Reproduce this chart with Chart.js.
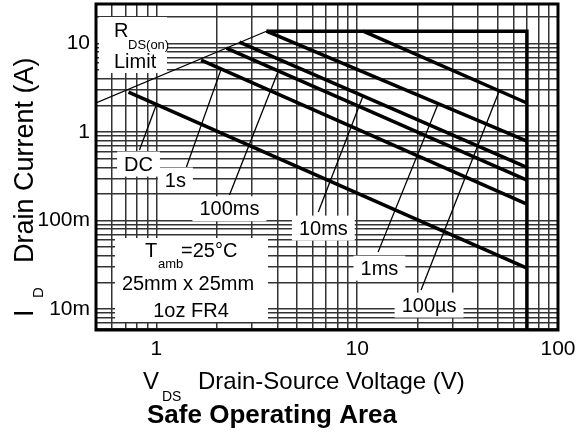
<!DOCTYPE html>
<html>
<head>
<meta charset="utf-8">
<script src="https://cdn.jsdelivr.net/npm/chart.js@4.4.0/dist/chart.umd.min.js"></script>
<style>
  body { margin: 0; background: #fff; }
</style>
</head>
<body>
<canvas id="soa" width="577" height="434"></canvas>
<script>
// Safe operating area, VDS (V) against ID (A), both log
const rdsV = [0.5, 3.53];
const rdsI = [2.13, 13.8];
const limitV = [3.53, 70, 70];
const limitI = [13.8, 13.8, 0.0058];
const dcV = [0.726, 70];
const dcI = [2.83, 0.029];
const s1V = [1.67, 70];
const s1I = [6.5, 0.153];
const ms100V = [2.23, 70];
const ms100I = [8.9, 0.287];
const ms10V = [2.59, 70];
const ms10I = [10.4, 0.40];
const ms1V = [3.53, 70];
const ms1I = [13.8, 0.79];
const us100V = [10.7, 70];
const us100I = [13.8, 2.13];

// grid + tick labels
const xGrid = [0.5, 0.6, 0.7, 0.8, 0.9, 1, 2, 3, 4, 5, 6, 7, 8, 9, 10, 20, 30, 40, 50, 60, 70, 80, 90, 100];
const yGrid = [0.006, 0.007, 0.008, 0.009, 0.01, 0.02, 0.03, 0.04, 0.05, 0.06, 0.07, 0.08, 0.09,
               0.1, 0.2, 0.3, 0.4, 0.5, 0.6, 0.7, 0.8, 0.9, 1, 2, 3, 4, 5, 6, 7, 8, 9, 10, 20];
const xTickVals = [1, 10, 100];
const xTickText = ['1', '10', '100'];
const yTickVals = [0.01, 0.1, 1, 10];
const yTickText = ['10m', '100m', '1', '10'];

// pulse-width callouts (label spot, leader line from / to)
const calloutText = ['DC', '1s', '100ms', '10ms', '1ms', '100µs'];
const calloutV = [0.814, 1.243, 2.31, 6.78, 12.9, 22.8];
const calloutI = [0.435, 0.287, 0.136, 0.0822, 0.029, 0.0111];
const leadFromV = [0.823, 1.41, 2.31, 6.4, 12.7, 20.8];
const leadFromI = [0.626, 0.403, 0.194, 0.125, 0.044, 0.0164];
const leadToV = [1.0, 2.1, 4.05, 10.7, 25.3, 50.9];
const leadToI = [2.05, 5.14, 4.94, 2.57, 2.09, 2.9];

const FONT = '"Liberation Sans", Arial, sans-serif';

function pts(xs, ys) {
    return xs.map((x, i) => ({ x: x, y: ys[i] }));
}

function line(xs, ys, w) {
    return {
        data: pts(xs, ys),
        showLine: true,
        borderColor: '#000',
        borderWidth: w,
        pointRadius: 0,
        tension: 0
    };
}

function whiteBox(ctx, cx, cy, w, h) {
    ctx.fillStyle = '#fff';
    ctx.fillRect(cx - w / 2, cy - h / 2, w, h);
}

const calloutPlugin = {
    id: 'callouts',
    beforeDatasetsDraw(chart) {
        const ctx = chart.ctx;
        const xs = chart.scales.x, ys = chart.scales.y;
        ctx.save();

        // leader lines
        ctx.strokeStyle = '#000';
        ctx.lineWidth = 1.3;
        calloutText.forEach((t, i) => {
            ctx.beginPath();
            ctx.moveTo(xs.getPixelForValue(leadFromV[i]), ys.getPixelForValue(leadFromI[i]));
            ctx.lineTo(xs.getPixelForValue(leadToV[i]), ys.getPixelForValue(leadToI[i]));
            ctx.stroke();
        });

        // labels on white patches
        ctx.font = '20px ' + FONT;
        ctx.textAlign = 'center';
        ctx.textBaseline = 'middle';
        calloutText.forEach((t, i) => {
            const cx = xs.getPixelForValue(calloutV[i]);
            const cy = ys.getPixelForValue(calloutI[i]);
            const w = ctx.measureText(t).width + 14;
            whiteBox(ctx, cx, cy, w, 25);
            ctx.fillStyle = '#000';
            ctx.fillText(t, cx, cy + 1);
        });

        // RDS(on) limit note
        const ca = chart.chartArea;
        ctx.fillStyle = '#fff';
        ctx.fillRect(ca.left + 3, ca.top + 13, 68, 56);
        ctx.fillStyle = '#000';
        ctx.textAlign = 'left';
        ctx.textBaseline = 'alphabetic';
        ctx.font = '20px ' + FONT;
        ctx.fillText('R', ca.left + 18, ca.top + 33);
        ctx.font = '13px ' + FONT;
        ctx.fillText('DS(on)', ca.left + 32, ca.top + 45);
        ctx.font = '20px ' + FONT;
        ctx.fillText('Limit', ca.left + 18, ca.top + 64);

        // test conditions box
        ctx.fillStyle = '#fff';
        ctx.fillRect(ca.left + 19, 238, 153, 84);
        ctx.fillStyle = '#000';
        ctx.font = '20px ' + FONT;
        ctx.fillText('T', 145, 257);
        ctx.font = '13px ' + FONT;
        ctx.fillText('amb', 158, 268);
        ctx.font = '20px ' + FONT;
        ctx.fillText('=25°C', 181, 257);
        ctx.textAlign = 'center';
        ctx.fillText('25mm x 25mm', 188, 290);
        ctx.fillText('1oz FR4', 191, 317);
        ctx.restore();
    },
    afterDraw(chart) {
        const ctx = chart.ctx;
        const ca = chart.chartArea;
        ctx.save();
        ctx.strokeStyle = '#000';
        ctx.lineWidth = 3;
        ctx.strokeRect(ca.left, ca.top, ca.right - ca.left, ca.bottom - ca.top);

        ctx.fillStyle = '#000';
        ctx.textBaseline = 'alphabetic';
        ctx.textAlign = 'left';

        // y title, rotated
        ctx.save();
        ctx.translate(33, 317);
        ctx.rotate(-Math.PI / 2);
        ctx.font = '27px ' + FONT;
        ctx.fillText('I', 0, 0);
        ctx.font = '15px ' + FONT;
        ctx.fillText('D', 19, 10);
        ctx.font = '27px ' + FONT;
        ctx.fillText('Drain Current (A)', 54, 0);
        ctx.restore();

        // x title
        ctx.font = '24px ' + FONT;
        ctx.fillText('V', 143, 389);
        ctx.font = '14px ' + FONT;
        ctx.fillText('DS', 162, 401);
        ctx.font = '24px ' + FONT;
        ctx.fillText('Drain-Source Voltage (V)', 198, 389);

        ctx.font = 'bold 26px ' + FONT;
        ctx.textAlign = 'center';
        ctx.fillText('Safe Operating Area', 272, 423);
        ctx.restore();
    }
};

new Chart(document.getElementById('soa'), {
    type: 'scatter',
    data: {
        datasets: [
            line(rdsV, rdsI, 1.2),
            line(limitV, limitI, 3.5),
            line(dcV, dcI, 3.5),
            line(s1V, s1I, 3.5),
            line(ms100V, ms100I, 3.5),
            line(ms10V, ms10I, 3.5),
            line(ms1V, ms1I, 3.5),
            line(us100V, us100I, 3.5)
        ]
    },
    options: {
        responsive: false,
        animation: false,
        layout: { padding: { left: 0, top: 4, right: 19, bottom: 0 } },
        plugins: {
            legend: { display: false },
            tooltip: { enabled: false }
        },
        scales: {
            x: {
                type: 'logarithmic',
                min: 0.5,
                max: 100,
                afterFit: s => {
                    s.height = 104;
                    s.paddingLeft = 0;
                    s.paddingRight = 0;
                },
                afterBuildTicks: s => { s.ticks = xGrid.map(v => ({ value: v })); },
                grid: { color: '#333', lineWidth: 1.5, drawTicks: false },
                border: { display: false },
                ticks: {
                    autoSkip: false,
                    maxRotation: 0,
                    padding: 7,
                    color: '#000',
                    font: { family: FONT, size: 21 },
                    callback: v => {
                        const k = xTickVals.indexOf(v);
                        return k >= 0 ? xTickText[k] : '';
                    }
                }
            },
            y: {
                type: 'logarithmic',
                min: 0.0058,
                max: 28,
                afterFit: s => {
                    s.width = 96;
                    s.paddingTop = 0;
                    s.paddingBottom = 0;
                },
                afterBuildTicks: s => { s.ticks = yGrid.map(v => ({ value: v })); },
                grid: { color: '#333', lineWidth: 1.5, drawTicks: false },
                border: { display: false },
                ticks: {
                    autoSkip: false,
                    padding: 6,
                    color: '#000',
                    font: { family: FONT, size: 21 },
                    callback: v => {
                        const k = yTickVals.indexOf(v);
                        return k >= 0 ? yTickText[k] : '';
                    }
                }
            }
        }
    },
    plugins: [calloutPlugin]
});
</script>
</body>
</html>
